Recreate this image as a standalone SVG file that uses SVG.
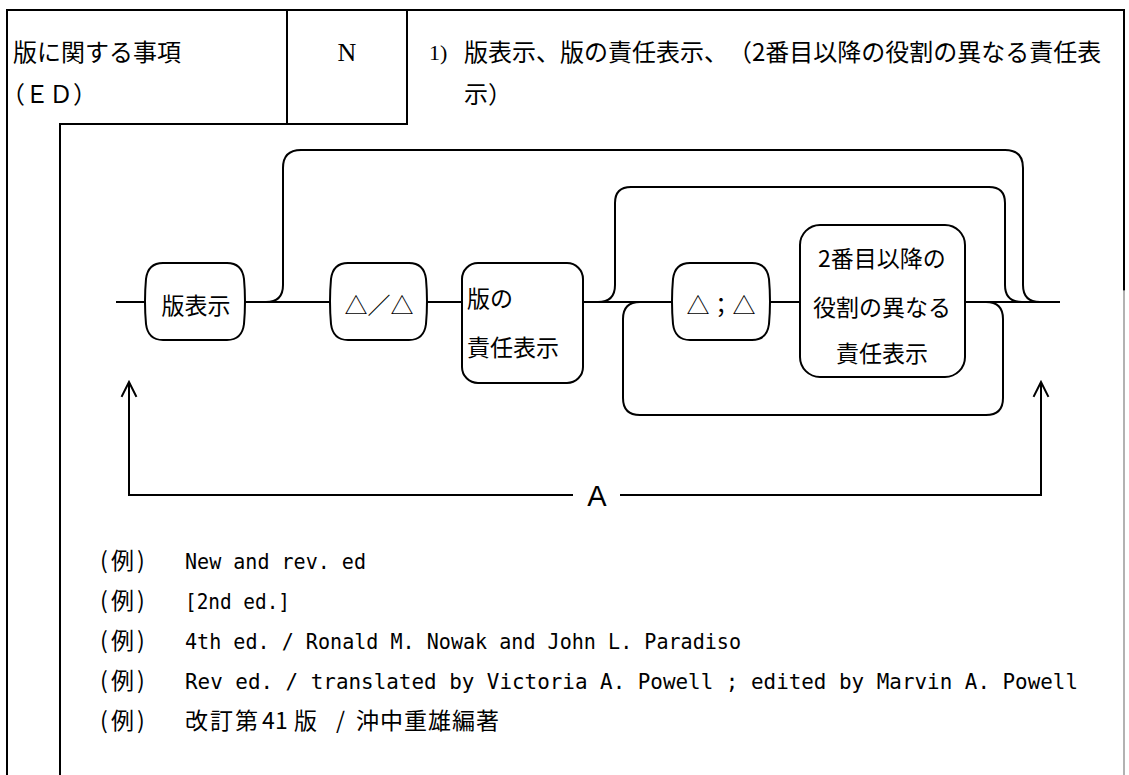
<svg xmlns="http://www.w3.org/2000/svg" width="1129" height="775" viewBox="0 0 1129 775">
<style>
.ln{fill:none;stroke:#000;stroke-width:2;stroke-linecap:square}
.bx{fill:#fff;stroke:#000;stroke-width:2}
.jp{font-family:"Noto Sans CJK JP","Noto Sans",sans-serif;fill:#000}
.hd{font-size:24px}
.dg{font-size:23px}
.ex{font-family:"DejaVu Sans Mono","Noto Sans CJK JP",monospace;font-size:22px;fill:#000}
.exj{font-family:"Noto Sans CJK JP",sans-serif;font-size:23px;fill:#000}
</style>
<rect x="0" y="0" width="1129" height="775" fill="#fff"/>
<g id="frame">
<path class="ln" d="M7,10 H1124 M7,10 V775 M287,10 V124 M407,10 V124 M60,124 H407 M60,124 V775 M1124,10 V290"/>
<path d="M1124,290 V775" fill="none" stroke="#999" stroke-width="1.5"/>
</g>
<g id="header">
<text class="jp hd" x="13" y="61">版に関する事項</text>
<text class="jp hd" x="1" y="103">（ＥＤ）</text>
<text x="347" y="61" font-family="Liberation Serif,serif" font-size="26" text-anchor="middle">N</text>
<text x="429" y="60" font-family="Liberation Serif,serif" font-size="22">1)</text>
<text class="jp hd" x="464" y="61">版表示、版の責任表示、<tspan dx="12">（2番目以降の役割の異なる責任表</tspan></text>
<text class="jp hd" x="464" y="103">示）</text>
</g>
<g id="connectors">
<path class="ln" d="M117,302 H145 M245,302 H330 M427,302 H462 M583,302 H672 M770,302 H800 M965,302 H1059"/>
<path class="ln" d="M266,302 Q283,302 283,285 V168 Q283,150 301,150 H1005 Q1023,150 1023,168 V285 Q1023,302 1040,302"/>
<path class="ln" d="M598,302 Q615,302 615,285 V203 Q615,187 631,187 H989 Q1005,187 1005,203 V285 Q1005,302 1022,302"/>
<path class="ln" d="M640,302 Q623,302 623,319 V398 Q623,415 640,415 H986 Q1003,415 1003,398 V319 Q1003,302 986,302"/>
<path class="ln" d="M129,495 V383 M129,495 H572 M621,495 H1041 M1041,495 V383"/>
<path class="ln" d="M122,396 L129,382 L136,396 M1034,396 L1041,382 L1048,396" stroke-linecap="round"/>
<text x="597" y="506" font-family="Liberation Sans,sans-serif" font-size="29" text-anchor="middle">A</text>
</g>
<g id="n1">
<path class="bx" d="M163,263 H227 Q242,263 244,279 Q246,301.5 244,324 Q242,340 227,340 H163 Q148,340 146,324 Q144,301.5 146,279 Q148,263 163,263 Z"/>
<text class="jp dg" x="196" y="314" text-anchor="middle">版表示</text>
</g>
<g id="n2">
<path class="bx" d="M348,263 H409 Q424,263 426,279 Q428,301.5 426,324 Q424,340 409,340 H348 Q333,340 331,324 Q329,301.5 331,279 Q333,263 348,263 Z"/>
<text class="jp dg" x="379" y="314" text-anchor="middle">△／△</text>
</g>
<g id="n3">
<rect class="bx" x="462" y="263" width="121" height="120" rx="16"/>
<text class="jp dg" x="467" y="307">版の</text>
<text class="jp dg" x="467" y="356">責任表示</text>
</g>
<g id="n4">
<path class="bx" d="M690,263 H752 Q767,263 769,279 Q771,301.5 769,324 Q767,340 752,340 H690 Q675,340 673,324 Q671,301.5 673,279 Q675,263 690,263 Z"/>
<text class="jp dg" x="721" y="314" text-anchor="middle">△；△</text>
</g>
<g id="n5">
<rect class="bx" x="800" y="225" width="165" height="152" rx="20"/>
<text class="jp dg" x="882" y="267" text-anchor="middle">2番目以降の</text>
<text class="jp dg" x="882" y="316" text-anchor="middle">役割の異なる</text>
<text class="jp dg" x="882" y="362" text-anchor="middle">責任表示</text>
</g>
<g id="examples">
<text class="exj" x="100 111 137" y="569">(例)</text>
<text class="ex" x="185" y="569" textLength="181" lengthAdjust="spacingAndGlyphs">New and rev. ed</text>
<text class="exj" x="100 111 137" y="609">(例)</text>
<text class="ex" x="185" y="609" textLength="105" lengthAdjust="spacingAndGlyphs">[2nd ed.]</text>
<text class="exj" x="100 111 137" y="649">(例)</text>
<text class="ex" x="185" y="649" textLength="556" lengthAdjust="spacingAndGlyphs">4th ed. / Ronald M. Nowak and John L. Paradiso</text>
<text class="exj" x="100 111 137" y="689">(例)</text>
<text class="ex" x="185" y="689" textLength="893" lengthAdjust="spacingAndGlyphs">Rev ed. / translated by Victoria A. Powell ; edited by Marvin A. Powell</text>
<text class="exj" x="100 111 137" y="729">(例)</text>
<text class="exj" x="185 210 235 262 275 294 336 356 380 404 428 452 476" y="729">改訂第41版/沖中重雄編著</text>
</g>
</svg>
